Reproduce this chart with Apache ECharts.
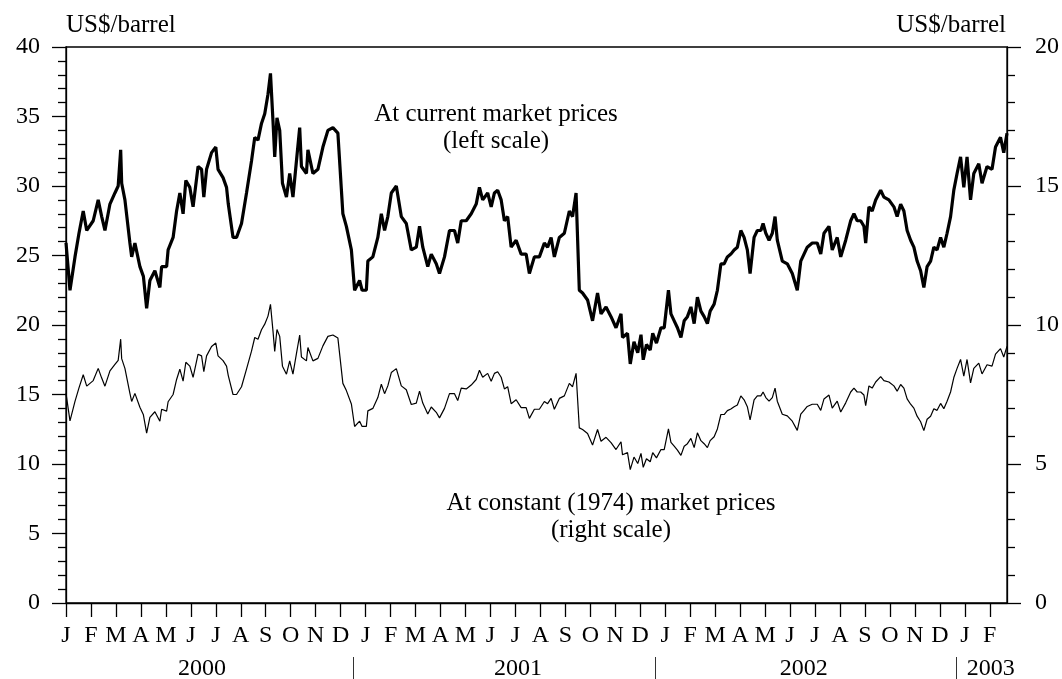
<!DOCTYPE html>
<html>
<head>
<meta charset="utf-8">
<title>Oil prices</title>
<script src="https://cdn.jsdelivr.net/npm/echarts@6/dist/echarts.min.js"></script>
<style>
  html, body { margin: 0; padding: 0; background: #fff; }
  #chart { width: 1062px; height: 679px; }
</style>
</head>
<body>
<div id="chart"></div>
<script>
// month letters, one per tick (Jan 2000 .. Feb 2003)
let months = 'JFMAMJJASOND'.split('').concat('JFMAMJJASOND'.split(''), 'JFMAMJJASOND'.split(''), ['J', 'F'])
let years = ['2000', '2001', '2002', '2003']
// year boundaries and label centres, in months from Jan 2000
let yearBreaks = [11.5, 23.6, 35.64]
let yearCentres = [5.45, 18.1, 29.55]

// position of each reading, in months from Jan 2000
let monthPos = [
  0.00, 0.16, 0.36, 0.52, 0.69, 0.83, 1.09, 1.29, 1.43, 1.56, 1.76, 1.96, 2.09, 2.19, 2.23, 2.36, 2.56, 2.63, 2.76, 2.96,
  3.10, 3.23, 3.36, 3.56, 3.76, 3.83, 4.03, 4.09, 4.29, 4.43, 4.56, 4.69, 4.80, 4.96, 5.09, 5.29, 5.43, 5.52, 5.63, 5.83,
  6.00, 6.09, 6.29, 6.43, 6.50, 6.69, 6.83, 7.03, 7.23, 7.43, 7.56, 7.69, 7.83, 7.96, 8.09, 8.19, 8.29, 8.36, 8.45, 8.56,
  8.67, 8.83, 8.96, 9.09, 9.23, 9.36, 9.43, 9.63, 9.69, 9.89, 10.09, 10.29, 10.49, 10.69, 10.89, 11.09, 11.23, 11.43, 11.56, 11.76,
  11.86, 12.03, 12.09, 12.29, 12.49, 12.63, 12.76, 12.89, 13.03, 13.23, 13.43, 13.63, 13.83, 14.03, 14.16, 14.29, 14.49, 14.63, 14.83, 14.96,
  15.16, 15.36, 15.56, 15.69, 15.83, 16.03, 16.23, 16.43, 16.56, 16.69, 16.89, 17.03, 17.16, 17.29, 17.43, 17.56, 17.69, 17.83, 18.03, 18.23,
  18.43, 18.56, 18.76, 18.96, 19.16, 19.29, 19.43, 19.56, 19.76, 19.96, 20.16, 20.29, 20.43, 20.56, 20.69, 20.89, 21.09, 21.29, 21.43, 21.63,
  21.83, 22.03, 22.23, 22.29, 22.49, 22.60, 22.75, 22.90, 23.03, 23.12, 23.25, 23.40, 23.50, 23.65, 23.83, 23.96, 24.13, 24.23, 24.36, 24.49,
  24.63, 24.76, 24.89, 25.03, 25.16, 25.29, 25.43, 25.56, 25.69, 25.80, 25.96, 26.09, 26.23, 26.36, 26.49, 26.63, 26.76, 26.89, 27.03, 27.16,
  27.29, 27.40, 27.56, 27.69, 27.83, 27.92, 28.03, 28.16, 28.29, 28.40, 28.49, 28.69, 28.89, 29.09, 29.29, 29.43, 29.56, 29.69, 29.89, 30.09,
  30.23, 30.36, 30.56, 30.69, 30.89, 31.03, 31.23, 31.43, 31.56, 31.69, 31.83, 31.96, 32.03, 32.16, 32.29, 32.43, 32.63, 32.76, 32.96, 33.16,
  33.29, 33.43, 33.56, 33.69, 33.83, 33.96, 34.09, 34.23, 34.36, 34.49, 34.63, 34.76, 34.89, 35.03, 35.16, 35.29, 35.43, 35.56, 35.69, 35.83,
  35.96, 36.09, 36.23, 36.36, 36.56, 36.69, 36.89, 37.09, 37.23, 37.43, 37.56, 37.69
]

// at current market prices, US$/barrel (left scale)
let current = [
  25.9, 22.5, 24.9, 26.6, 28.2, 26.8, 27.5, 29.0, 27.8, 26.8, 28.7, 29.5, 30.0, 32.6, 30.2, 29.0, 25.9, 24.9, 25.9, 24.2,
  23.5, 21.2, 23.2, 23.9, 22.7, 24.2, 24.2, 25.4, 26.3, 28.2, 29.5, 28.0, 30.4, 29.9, 28.5, 31.4, 31.2, 29.2, 31.2, 32.4,
  32.8, 31.2, 30.6, 29.9, 28.7, 26.3, 26.3, 27.3, 29.5, 31.8, 33.5, 33.3, 34.5, 35.2, 36.6, 38.1, 34.7, 32.1, 34.9, 34.0,
  30.2, 29.2, 30.9, 29.2, 31.8, 34.2, 31.4, 30.9, 32.6, 30.9, 31.2, 32.8, 34.0, 34.2, 33.8, 28.0, 27.1, 25.4, 22.5, 23.2,
  22.5, 22.5, 24.6, 24.9, 26.3, 28.0, 26.8, 27.8, 29.5, 30.0, 27.8, 27.3, 25.4, 25.6, 27.1, 25.6, 24.2, 25.1, 24.4, 23.7,
  24.9, 26.8, 26.8, 25.9, 27.5, 27.5, 28.0, 28.7, 29.9, 29.0, 29.5, 28.5, 29.5, 29.7, 29.0, 27.5, 27.8, 25.6, 26.1, 25.1,
  25.1, 23.7, 24.9, 24.9, 25.9, 25.6, 26.3, 24.9, 26.3, 26.6, 28.2, 27.8, 29.5, 22.5, 22.3, 21.8, 20.3, 22.3, 20.8, 21.3,
  20.6, 19.8, 20.8, 19.1, 19.4, 17.2, 18.8, 18.0, 19.3, 17.5, 18.6, 18.2, 19.4, 18.7, 19.8, 19.8, 22.5, 20.8, 20.3, 19.8,
  19.1, 20.3, 20.6, 21.3, 20.1, 22.0, 21.0, 20.6, 20.1, 21.0, 21.5, 22.5, 24.4, 24.4, 24.9, 25.1, 25.4, 25.6, 26.8, 26.3,
  25.4, 23.7, 26.3, 26.8, 26.8, 27.3, 26.6, 26.1, 26.6, 27.8, 26.1, 24.6, 24.4, 23.7, 22.5, 24.6, 25.1, 25.6, 25.9, 25.9,
  25.1, 26.6, 27.1, 25.4, 26.3, 24.9, 26.1, 27.5, 28.0, 27.5, 27.5, 27.1, 25.9, 28.5, 28.2, 29.0, 29.7, 29.2, 29.0, 28.5,
  27.8, 28.7, 28.2, 26.8, 26.1, 25.6, 24.6, 23.9, 22.7, 24.2, 24.6, 25.6, 25.4, 26.3, 25.6, 26.6, 27.8, 29.7, 30.9, 32.1,
  29.9, 32.1, 29.0, 30.9, 31.6, 30.2, 31.4, 31.2, 32.8, 33.5, 32.4, 33.8
]

// at constant (1974) market prices, US$/barrel (right scale)
let constant = [
  7.54, 6.55, 7.25, 7.74, 8.21, 7.80, 8.00, 8.44, 8.09, 7.80, 8.35, 8.58, 8.73, 9.49, 8.79, 8.44, 7.54, 7.25, 7.54, 7.04,
  6.77, 6.11, 6.68, 6.88, 6.54, 6.97, 6.90, 7.24, 7.50, 8.04, 8.41, 7.98, 8.66, 8.52, 8.12, 8.95, 8.89, 8.32, 8.89, 9.23,
  9.35, 8.89, 8.72, 8.52, 8.18, 7.50, 7.50, 7.78, 8.41, 9.06, 9.55, 9.49, 9.83, 10.03, 10.32, 10.74, 9.79, 9.05, 9.84, 9.59,
  8.52, 8.23, 8.71, 8.23, 8.97, 9.64, 8.85, 8.71, 9.19, 8.71, 8.80, 9.25, 9.59, 9.64, 9.53, 7.90, 7.64, 7.16, 6.35, 6.54,
  6.35, 6.35, 6.91, 7.00, 7.39, 7.87, 7.53, 7.81, 8.29, 8.43, 7.81, 7.67, 7.14, 7.19, 7.62, 7.19, 6.80, 7.05, 6.86, 6.66,
  7.00, 7.53, 7.53, 7.28, 7.73, 7.70, 7.84, 8.04, 8.37, 8.12, 8.26, 7.98, 8.26, 8.32, 8.12, 7.70, 7.78, 7.17, 7.31, 7.03,
  7.03, 6.64, 6.97, 6.97, 7.25, 7.17, 7.36, 6.97, 7.36, 7.45, 7.90, 7.78, 8.26, 6.30, 6.24, 6.10, 5.68, 6.24, 5.82, 5.96,
  5.77, 5.52, 5.80, 5.33, 5.41, 4.80, 5.25, 5.02, 5.38, 4.88, 5.19, 5.08, 5.41, 5.22, 5.52, 5.52, 6.26, 5.78, 5.64, 5.50,
  5.31, 5.64, 5.73, 5.92, 5.59, 6.12, 5.84, 5.73, 5.59, 5.84, 5.98, 6.26, 6.78, 6.78, 6.92, 6.98, 7.06, 7.12, 7.45, 7.31,
  7.06, 6.59, 7.31, 7.45, 7.45, 7.59, 7.39, 7.26, 7.39, 7.73, 7.26, 6.79, 6.73, 6.54, 6.21, 6.79, 6.93, 7.07, 7.15, 7.15,
  6.93, 7.34, 7.48, 7.01, 7.26, 6.87, 7.20, 7.59, 7.73, 7.59, 7.59, 7.48, 7.10, 7.81, 7.73, 7.95, 8.14, 8.00, 7.95, 7.81,
  7.62, 7.86, 7.73, 7.34, 7.15, 7.01, 6.72, 6.52, 6.20, 6.61, 6.72, 6.99, 6.93, 7.18, 6.99, 7.26, 7.59, 8.11, 8.44, 8.76,
  8.16, 8.76, 7.92, 8.44, 8.63, 8.24, 8.57, 8.52, 8.95, 9.15, 8.85, 9.23
]

let font = '"Liberation Serif", "Times New Roman", serif'
let tickFontSize = 24
let textFontSize = 25

let chart = echarts.init(document.getElementById('chart'), null, {renderer: 'canvas'})

function axisLine() {
  return {show: true, lineStyle: {color: '#000', width: 1.3}}
}

function yAxisFor(max, position, margin) {
  return {
    type: 'value',
    position: position,
    min: 0,
    max: max,
    interval: 5,
    axisLine: axisLine(),
    axisTick: {show: true, inside: false, length: 14, lineStyle: {color: '#000', width: 1.3}},
    minorTick: {show: true, splitNumber: 5, length: 8, lineStyle: {color: '#000', width: 1.3}},
    splitLine: {show: false},
    axisLabel: {margin: margin, color: '#000', fontFamily: font, fontSize: tickFontSize}
  }
}

let option = {
  animation: false,
  backgroundColor: '#fff',
  grid: {left: 66, right: 54, top: 47, bottom: 76, show: true, borderColor: '#000', borderWidth: 1.3},
  xAxis: {
    type: 'value',
    min: 0,
    max: 37.69,
    interval: 1,
    axisLine: axisLine(),
    axisTick: {show: true, inside: false, length: 14, lineStyle: {color: '#000', width: 1.3}},
    splitLine: {show: false},
    axisLabel: {
      margin: 21,
      color: '#000',
      fontFamily: font,
      fontSize: tickFontSize,
      showMaxLabel: false,
      formatter: function (v) {
        return months[v] || ''
      }
    }
  },
  yAxis: [yAxisFor(40, 'left', 26), yAxisFor(20, 'right', 28)],
  series: [
    {
      name: 'current',
      type: 'line',
      yAxisIndex: 0,
      symbol: 'none',
      lineStyle: {color: '#000', width: 3.2},
      data: monthPos.map((m, i) => [m, current[i]])
    },
    {
      name: 'constant',
      type: 'line',
      yAxisIndex: 1,
      symbol: 'none',
      lineStyle: {color: '#000', width: 1.2},
      data: monthPos.map((m, i) => [m, constant[i]])
    }
  ]
}
chart.setOption(option)

// year row under the month letters, placed from axis values
function drawYears() {
  let tickStyle = {fontFamily: font, fontSize: tickFontSize, fill: '#000', textVerticalAlign: 'middle'}
  let textStyle = {fontFamily: font, fontSize: textFontSize, fill: '#000', textVerticalAlign: 'middle'}
  let els = []
  yearBreaks.forEach(b => {
    let x = Math.round(chart.convertToPixel({xAxisIndex: 0}, b)) + 0.5
    els.push({type: 'line', shape: {x1: x, y1: 657, x2: x, y2: 679}, style: {stroke: '#333', lineWidth: 1}})
  })
  yearCentres.forEach((c, i) => {
    let x = chart.convertToPixel({xAxisIndex: 0}, c)
    els.push({type: 'text', x: x, y: 669, style: Object.assign({text: years[i], textAlign: 'center'}, tickStyle)})
  })
  let lastBreak = chart.convertToPixel({xAxisIndex: 0}, yearBreaks[2])
  els.push({type: 'text', x: lastBreak + 11, y: 669, style: Object.assign({text: years[3], textAlign: 'left'}, tickStyle)})

  // units and series notes
  els.push({type: 'text', x: 66, y: 25, style: Object.assign({text: 'US$/barrel', textAlign: 'left'}, textStyle)})
  els.push({type: 'text', x: 1006, y: 25, style: Object.assign({text: 'US$/barrel', textAlign: 'right'}, textStyle)})
  els.push({type: 'text', x: 496, y: 114, style: Object.assign({text: 'At current market prices', textAlign: 'center'}, textStyle)})
  els.push({type: 'text', x: 496, y: 141, style: Object.assign({text: '(left scale)', textAlign: 'center'}, textStyle)})
  els.push({type: 'text', x: 611, y: 503, style: Object.assign({text: 'At constant (1974) market prices', textAlign: 'center'}, textStyle)})
  els.push({type: 'text', x: 611, y: 530, style: Object.assign({text: '(right scale)', textAlign: 'center'}, textStyle)})
  chart.setOption({graphic: els})
}

drawYears()
</script>
</body>
</html>
